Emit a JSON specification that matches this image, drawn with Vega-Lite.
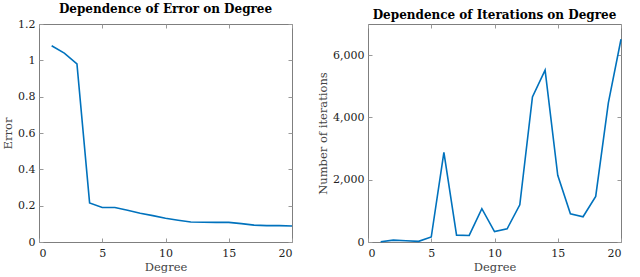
{
  "$schema": "https://vega.github.io/schema/vega-lite/v6.json",
  "padding": {"left": 2, "top": 2, "right": 5, "bottom": 0},
  "background": "white",
  "datasets": {
    "err": [
      {"degree": 1, "error": 1.08}, {"degree": 2, "error": 1.04}, {"degree": 3, "error": 0.98},
      {"degree": 4, "error": 0.215}, {"degree": 5, "error": 0.19}, {"degree": 6, "error": 0.19},
      {"degree": 7, "error": 0.175}, {"degree": 8, "error": 0.158}, {"degree": 9, "error": 0.145},
      {"degree": 10, "error": 0.131}, {"degree": 11, "error": 0.12}, {"degree": 12, "error": 0.11},
      {"degree": 13, "error": 0.109}, {"degree": 14, "error": 0.108}, {"degree": 15, "error": 0.108},
      {"degree": 16, "error": 0.101}, {"degree": 17, "error": 0.093}, {"degree": 18, "error": 0.09},
      {"degree": 19, "error": 0.09}, {"degree": 20, "error": 0.088}
    ],
    "iter": [
      {"degree": 1, "iterations": 10}, {"degree": 2, "iterations": 60}, {"degree": 3, "iterations": 40},
      {"degree": 4, "iterations": 20}, {"degree": 5, "iterations": 160}, {"degree": 6, "iterations": 2880},
      {"degree": 7, "iterations": 220}, {"degree": 8, "iterations": 210}, {"degree": 9, "iterations": 1070},
      {"degree": 10, "iterations": 335}, {"degree": 11, "iterations": 425}, {"degree": 12, "iterations": 1195},
      {"degree": 13, "iterations": 4660}, {"degree": 14, "iterations": 5520}, {"degree": 15, "iterations": 2140},
      {"degree": 16, "iterations": 905}, {"degree": 17, "iterations": 810}, {"degree": 18, "iterations": 1465},
      {"degree": 19, "iterations": 4470}, {"degree": 20, "iterations": 6510}
    ]
  },
  "config": {
    "font": "DejaVu Serif",
    "view": {"stroke": "#7f7f7f", "strokeWidth": 1},
    "title": {"fontSize": 12, "fontWeight": "bold", "font": "DejaVu Serif", "color": "black", "offset": 2},
    "axis": {
      "grid": false, "domain": false, "tickSize": -4, "tickColor": "#999999",
      "labelFont": "DejaVu Serif", "labelFontSize": 11, "labelColor": "#222222",
      "titleFont": "DejaVu Serif", "titleFontSize": 11.5, "titleFontWeight": "normal", "titleColor": "#444444",
      "labelPadding": 8
    }
  },
  "spacing": 21,
  "hconcat": [
    {
      "title": "Dependence of Error on Degree",
      "width": 253, "height": 218,
      "data": {"name": "err"},
      "layer": [
        {
          "mark": {"type": "line", "color": "#0072BD", "strokeWidth": 1.6},
          "encoding": {
            "x": {"field": "degree", "type": "quantitative", "scale": {"domain": [0, 20]}, "axis": {"title": "Degree", "values": [0, 5, 10, 15, 20], "labelPadding": 9, "titlePadding": 3}},
            "y": {"field": "error", "type": "quantitative", "scale": {"domain": [0, 1.2]}, "axis": {"title": "Error", "values": [0, 0.2, 0.4, 0.6, 0.8, 1, 1.2], "format": "~g", "titlePadding": 4}}
          }
        },
        {
          "mark": {"type": "line", "opacity": 0},
          "encoding": {
            "x": {"field": "degree", "type": "quantitative", "scale": {"domain": [0, 20]}, "axis": {"orient": "top", "labels": false, "title": null, "values": [0, 5, 10, 15, 20]}},
            "y": {"field": "error", "type": "quantitative", "scale": {"domain": [0, 1.2]}, "axis": {"orient": "right", "labels": false, "title": null, "values": [0, 0.2, 0.4, 0.6, 0.8, 1, 1.2]}}
          }
        }
      ],
      "resolve": {"axis": {"x": "independent", "y": "independent"}}
    },
    {
      "title": "Dependence of Iterations on Degree",
      "width": 253, "height": 218,
      "data": {"name": "iter"},
      "layer": [
        {
          "mark": {"type": "line", "color": "#0072BD", "strokeWidth": 1.6},
          "encoding": {
            "x": {"field": "degree", "type": "quantitative", "scale": {"domain": [0, 20]}, "axis": {"title": "Degree", "values": [0, 5, 10, 15, 20], "labelPadding": 9, "titlePadding": 3}},
            "y": {"field": "iterations", "type": "quantitative", "scale": {"domain": [0, 7000]}, "axis": {"title": "Number of iterations", "values": [0, 2000, 4000, 6000], "format": ",.0f", "titlePadding": 4}}
          }
        },
        {
          "mark": {"type": "line", "opacity": 0},
          "encoding": {
            "x": {"field": "degree", "type": "quantitative", "scale": {"domain": [0, 20]}, "axis": {"orient": "top", "labels": false, "title": null, "values": [0, 5, 10, 15, 20]}},
            "y": {"field": "iterations", "type": "quantitative", "scale": {"domain": [0, 7000]}, "axis": {"orient": "right", "labels": false, "title": null, "values": [0, 2000, 4000, 6000]}}
          }
        }
      ],
      "resolve": {"axis": {"x": "independent", "y": "independent"}}
    }
  ]
}
